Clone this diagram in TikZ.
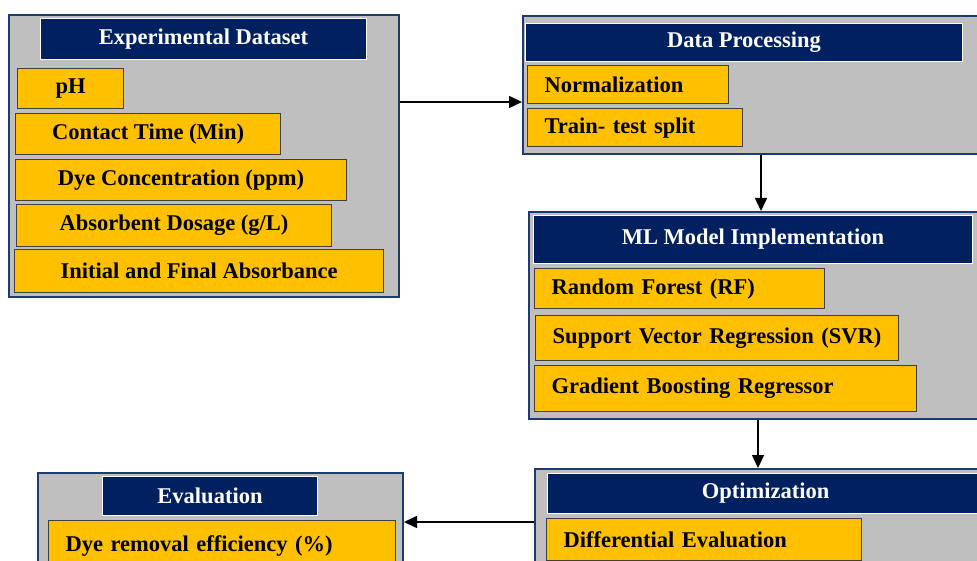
\documentclass[tikz,border=0pt]{standalone}
\usepackage{fontspec}
\setmainfont{Liberation Serif}
\usetikzlibrary{arrows.meta,positioning}
\definecolor{hdnavy}{HTML}{002060}
\definecolor{itemamber}{HTML}{FFC000}
\definecolor{panelgray}{HTML}{BFBFBF}
\definecolor{framenavy}{HTML}{1F3A6E}
\tikzset{
  >={Triangle[length=13pt,width=12pt]},
  grpbox/.style={draw=framenavy,fill=panelgray,line width=2pt,anchor=north west,
    inner sep=0pt},
  hdbox/.style={draw=white,fill=hdnavy,line width=1pt,anchor=north west,
    inner sep=0pt,text=white,font=\bfseries\fontsize{22.5}{26}\selectfont},
  itembox/.style={draw=black!75,fill=itemamber,line width=1.2pt,anchor=north west,
    inner sep=0pt,font=\bfseries\fontsize{22.5}{26}\selectfont},
  itemleft/.style={itembox,align=left,inner xsep=17pt},
  flow/.style={->,line width=1.6pt},
}
\begin{document}
\begin{tikzpicture}[x=1pt,y=-1pt]
  \useasboundingbox (0,0) rectangle (977,561);
  \clip (0,0) rectangle (977,561);
  % panels
  \node[grpbox,minimum width=390pt,minimum height=282pt] (expds) at (8,14) {};
  \node[grpbox,minimum width=465pt,minimum height=138pt] (dproc) at (522,15) {};
  \node[grpbox,minimum width=460pt,minimum height=207pt] (mlimp) at (528,211) {};
  \node[grpbox,minimum width=460pt,minimum height=140pt] (optim) at (534,468) {};
  \node[grpbox,minimum width=365pt,minimum height=130pt] (evalu) at (37,472) {};
  % headers
  \node[hdbox,minimum width=326pt,minimum height=41pt] (expdsT) at (40,18) {Experimental Dataset};
  \node[hdbox,minimum width=437pt,minimum height=38pt] (dprocT) at (525,23) {Data Processing};
  \node[hdbox,minimum width=439pt,minimum height=48pt] (mlimpT) at (533,215) {ML Model Implementation};
  \node[hdbox,minimum width=436pt,minimum height=40pt] (optimT) at (547,473) {Optimization};
  \node[hdbox,minimum width=215pt,minimum height=39pt] (evaluT) at (102,476) {Evaluation};
  % dataset items
  \node[itembox,minimum width=106pt,minimum height=40pt] (ph) at (17,68) {pH};
  \node[itembox,minimum width=265pt,minimum height=41pt] (ctime) at (15,113) {Contact Time (Min)};
  \node[itembox,minimum width=331pt,minimum height=41pt] (dyec) at (15,159) {Dye Concentration (ppm)};
  \node[itembox,minimum width=315pt,minimum height=42pt] (dose) at (16,204) {Absorbent Dosage (g/L)};
  \node[itembox,minimum width=369pt,minimum height=43pt] (absb) at (14,249) {Initial and Final Absorbance};
  % processing items
  \node[itemleft,text width=167pt,minimum height=38pt] (nrm) at (527,65) {Normalization};
  \node[itemleft,text width=181pt,minimum height=38pt] (split) at (527,108) {Train- test split};
  % model items
  \node[itemleft,text width=256pt,minimum height=40pt] (rf) at (534,268) {Random Forest (RF)};
  \node[itemleft,text width=329pt,minimum height=45pt] (svr) at (535,315) {Support Vector Regression (SVR)};
  \node[itemleft,text width=348pt,minimum height=46pt] (gbr) at (534,365) {Gradient Boosting Regressor};
  % optimization / evaluation items
  \node[itemleft,text width=281pt,minimum height=42pt] (de) at (546,518) {Differential Evaluation};
  \node[itemleft,text width=313pt,minimum height=50pt] (dre) at (48,520) {Dye removal efficiency (\%)};
  % connectors
  \coordinate (r1) at (0,102);
  \coordinate (c2) at (761,0);
  \coordinate (c3) at (758,0);
  \coordinate (r4) at (0,522);
  \draw[flow] (expds.east |- r1) -- (dproc.west |- r1);
  \draw[flow] (dproc.south -| c2) -- (mlimp.north -| c2);
  \draw[flow] (mlimp.south -| c3) -- (optim.north -| c3);
  \draw[flow] (optim.west |- r4) -- (evalu.east |- r4);
\end{tikzpicture}
\end{document}
